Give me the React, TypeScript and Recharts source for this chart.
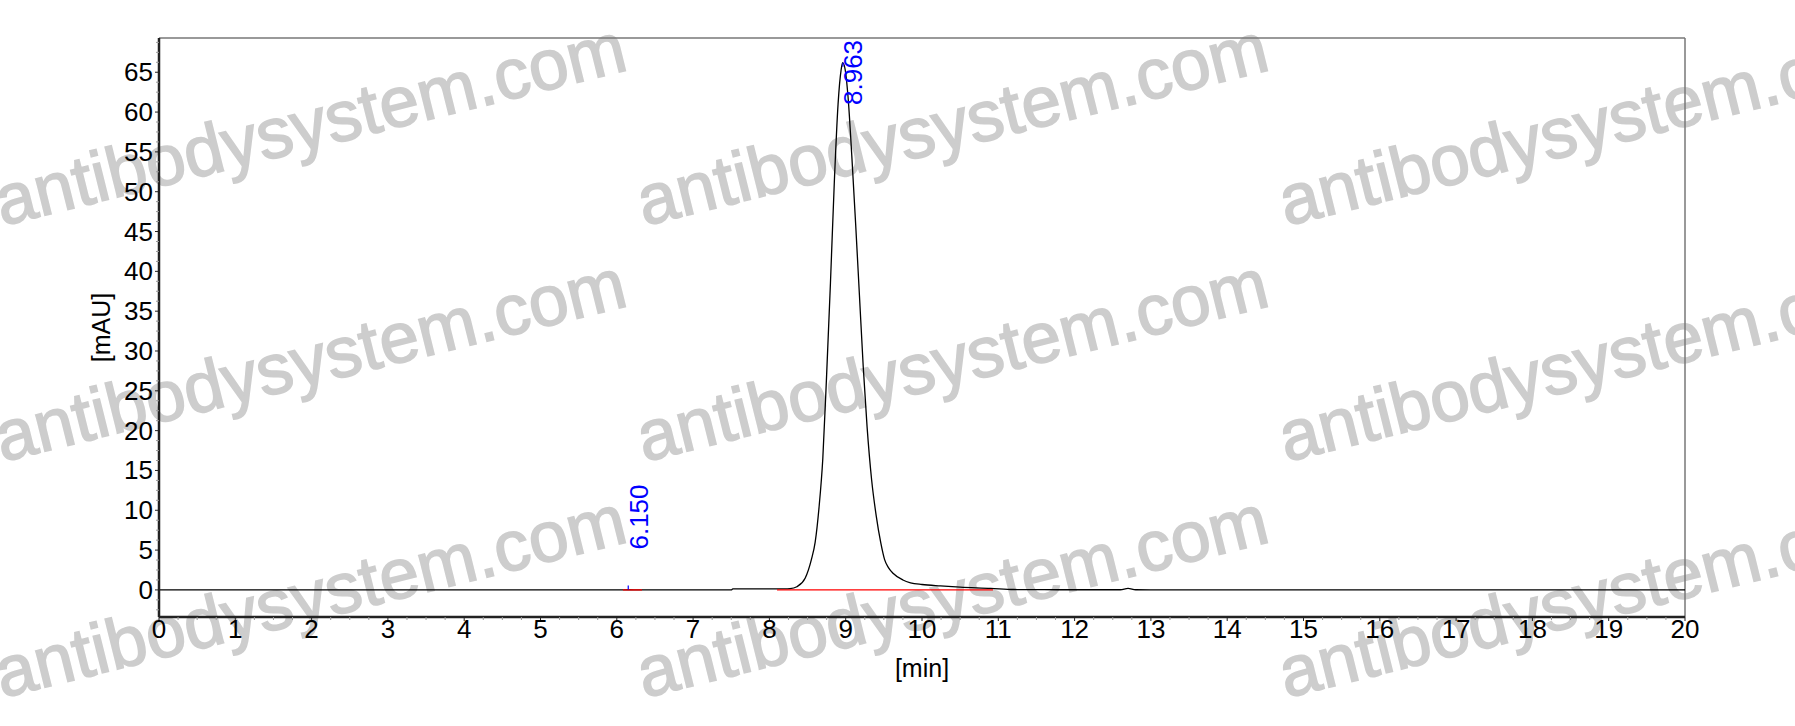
import React from 'react'
import { LineChart, Line, XAxis, YAxis, ReferenceLine, ReferenceDot, Label } from 'recharts'

// chromatogram trace
const retentionTimes = [
  0, 6.0, 6.15, 6.3, 7.5, 7.52, 8.0, 8.1, 8.2, 8.27, 8.36, 8.47, 8.55, 8.6, 8.65, 8.7, 8.75, 8.8,
  8.85, 8.9, 8.94, 8.96, 8.99, 9.03, 9.08, 9.13, 9.18, 9.23, 9.28, 9.34, 9.4, 9.46, 9.51, 9.56,
  9.62, 9.75, 9.85, 10.0, 10.24, 10.5, 10.9, 11.2, 11.6, 12.0, 12.6, 12.7, 12.8, 13.0, 20,
]
const absorbance = [
  0, 0, 0.02, 0, 0, 0.12, 0.12, 0.12, 0.12, 0.15, 0.4, 1.5, 3.8, 6.0, 10.3, 16.5, 27, 38.5,
  51, 61, 65.3, 66.2, 65.5, 62, 54.5, 46, 37, 28, 20.5, 13.8, 9.3, 5.9, 3.8, 2.8,
  2.1, 1.25, 0.9, 0.68, 0.5, 0.35, 0.2, 0.05, 0.03, 0.02, 0.02, 0.2, 0.02, 0, 0,
]

// integration baselines (start, end in min)
const baselineStarts = [6.08, 8.1]
const baselineEnds = [6.33, 10.93]

// detected peaks
const peakTimes = [6.15, 8.963]
const peakHeights = [0.55, 66.2]
const peakLabels = ['6.150', '8.963']

const xTicks = [0, 1, 2, 3, 4, 5, 6, 7, 8, 9, 10, 11, 12, 13, 14, 15, 16, 17, 18, 19, 20]
const yTicks = [0, 5, 10, 15, 20, 25, 30, 35, 40, 45, 50, 55, 60, 65]
const xDomain = [0, 20]
const yDomain = [-3.4, 69.3]

// major + minor tick positions (minor every quarter of a major step)
const xAllTicks = [...xTicks, ...xTicks.slice(0, -1).flatMap((t) => [t + 0.25, t + 0.5, t + 0.75])]
const yAllTicks = [-2.5, -1.25, ...yTicks, ...yTicks.flatMap((t) => [t + 1.25, t + 2.5, t + 3.75])].filter(
  (v) => v < 69
)

const W = 1795
const H = 726
const TOP = 38
const YAXIS_W = 60
const XAXIS_H = 40
const font = 'Arial, "Liberation Sans", sans-serif'

const signal = retentionTimes.map((t, i) => ({ t, v: absorbance[i] }))

const wmCols = [2, 644, 1286]
const wmRows = [226, 462, 698]

function Watermark() {
  return (
    <svg width={W} height={H} style={{ position: 'absolute', left: 0, top: 0 }}>
      {wmRows.map((y) =>
        wmCols.map((x) => (
          <text
            key={`${x}-${y}`}
            x={x}
            y={y}
            transform={`rotate(-14 ${x} ${y})`}
            fontFamily={font}
            fontSize={71}
            fill="#cdcdcd"
            stroke="#cdcdcd"
            strokeWidth={1.6}
          >
            antibodysystem.com
          </text>
        ))
      )}
    </svg>
  )
}

function XTick({ x, y, payload }: any) {
  const major = xTicks.includes(payload.value)
  return (
    <g>
      <line x1={x} y1={y} x2={x} y2={y + (major ? 4 : 3)} stroke={major ? '#222' : '#999'} />
      {major && (
        <text x={x} y={y + 21} textAnchor="middle" fontSize={26} fontFamily={font} fill="#000">
          {payload.value}
        </text>
      )}
    </g>
  )
}

function YTick({ x, y, payload }: any) {
  const major = yTicks.includes(payload.value)
  return (
    <g>
      <line x1={x - (major ? 4 : 3)} y1={y} x2={x} y2={y} stroke={major ? '#222' : '#999'} />
      {major && (
        <text x={x - 6} y={y} textAnchor="end" dominantBaseline="central" fontSize={26} fontFamily={font} fill="#000">
          {payload.value}
        </text>
      )}
    </g>
  )
}

function PeakTag({ cx, cy, text }: { cx?: number; cy?: number; text: string }) {
  if (cx == null || cy == null) return null
  const len = text.length * 13
  const ty = Math.max(cy - 36, TOP + 2 + len)
  const tx = cx + 19.5
  return (
    <g>
      <line x1={cx} y1={cy} x2={cx} y2={cy + 4} stroke="#0000ff" strokeWidth={1.2} />
      <text x={tx} y={ty} transform={`rotate(-90 ${tx} ${ty})`} fontFamily={font} fontSize={26} fill="#0000ff">
        {text}
      </text>
    </g>
  )
}

export default function App() {
  return (
    <div style={{ position: 'absolute', left: 0, top: 0, width: W, height: H, background: '#fff' }}>
      <Watermark />
      <div style={{ position: 'absolute', left: 0, top: 0 }}>
        <LineChart
          width={W}
          height={H}
          data={signal}
          margin={{ top: TOP, right: 110, bottom: 109 - XAXIS_H, left: 159 - YAXIS_W }}
        >
          <XAxis
            dataKey="t"
            type="number"
            domain={xDomain}
            ticks={xAllTicks}
            interval={0}
            allowDataOverflow
            height={XAXIS_H}
            tickSize={0}
            tickMargin={0}
            tick={<XTick />}
            tickLine={false}
            axisLine={{ stroke: '#222', strokeWidth: 2.5 }}
          >
            <Label
              content={({ viewBox }: any) => {
                const cx = (viewBox?.x ?? 159) + (viewBox?.width ?? 1526) / 2
                const cy = (viewBox?.y ?? 617) + 51
                return (
                  <text x={cx} y={cy} textAnchor="middle" dominantBaseline="central" fontSize={25} fontFamily={font} fill="#000">
                    [min]
                  </text>
                )
              }}
            />
          </XAxis>
          <YAxis
            type="number"
            domain={yDomain}
            ticks={yAllTicks}
            interval={0}
            allowDataOverflow
            width={YAXIS_W}
            tickSize={0}
            tickMargin={0}
            tick={<YTick />}
            tickLine={false}
            axisLine={{ stroke: '#222', strokeWidth: 2.5 }}
          >
            <Label
              content={({ viewBox }: any) => {
                const cx = (viewBox?.x ?? 99) + (viewBox?.width ?? YAXIS_W) - 58
                const cy = (viewBox?.y ?? TOP) + (viewBox?.height ?? 579) / 2
                return (
                  <text
                    x={cx}
                    y={cy}
                    transform={`rotate(-90 ${cx} ${cy})`}
                    textAnchor="middle"
                    dominantBaseline="central"
                    fontSize={25}
                    fontFamily={font}
                    fill="#000"
                  >
                    [mAU]
                  </text>
                )
              }}
            />
          </YAxis>
          <ReferenceLine y={yDomain[1]} stroke="#777" strokeWidth={1.5} />
          <ReferenceLine x={xDomain[1]} stroke="#777" strokeWidth={1.5} />
          {peakTimes.map((t, i) => (
            <ReferenceDot
              key={peakLabels[i]}
              x={t}
              y={peakHeights[i]}
              r={0}
              shape={(p: any) => <PeakTag cx={p.cx} cy={p.cy} text={peakLabels[i]} />}
            />
          ))}
          <Line
            dataKey="v"
            type="monotone"
            stroke="#000"
            strokeWidth={1.3}
            dot={false}
            activeDot={false}
            isAnimationActive={false}
          />
          {baselineStarts.map((s, i) => (
            <Line
              key={`bl-${i}`}
              data={[
                { t: s, v: 0 },
                { t: baselineEnds[i], v: 0 },
              ]}
              dataKey="v"
              stroke="#ff0000"
              strokeWidth={1.3}
              dot={false}
              activeDot={false}
              isAnimationActive={false}
            />
          ))}
        </LineChart>
      </div>
    </div>
  )
}
